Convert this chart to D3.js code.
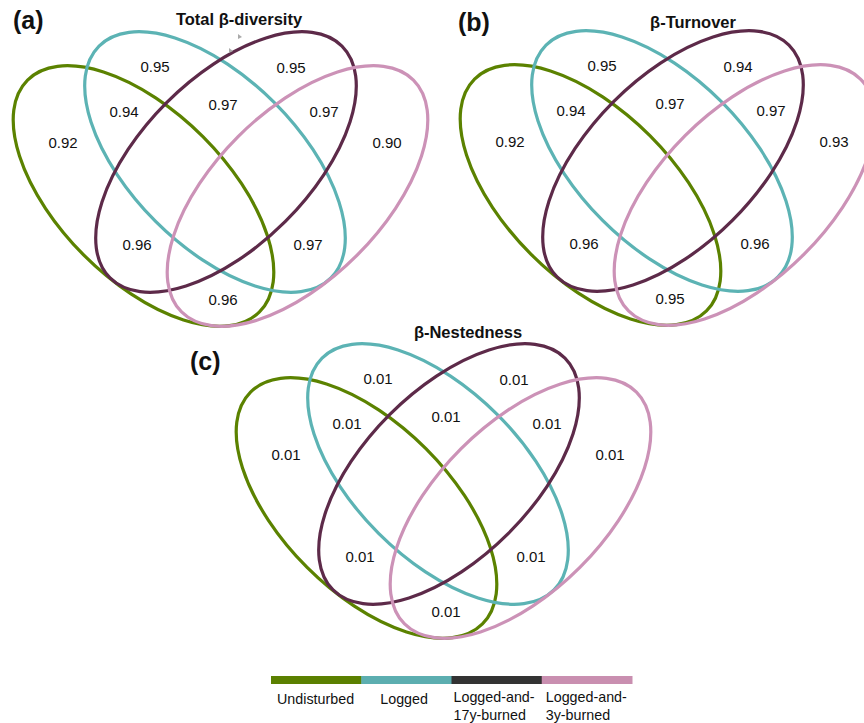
<!DOCTYPE html>
<html>
<head>
<meta charset="utf-8">
<script src="https://cdn.jsdelivr.net/npm/d3@7"></script>
<style>
  body { margin: 0; background: #fff; }
  svg { display: block; }
  text { font-family: "Liberation Sans", Arial, sans-serif; fill: #111; }
</style>
</head>
<body>
<svg id="chart" width="864" height="723"></svg>
<script>
// Sites compared
const groups = ["Undisturbed", "Logged", "Logged-and-17y-burned", "Logged-and-3y-burned"];
const legendLines = [["Undisturbed"], ["Logged"], ["Logged-and-", "17y-burned"], ["Logged-and-", "3y-burned"]];

// Venn regions: single groups (within-group) and pairwise comparisons
const regions = ["U", "L", "B17", "B3", "U-L", "L-B17", "B17-B3", "U-B17", "L-B3", "U-B3"];

// Dissimilarity values per region
const totalBeta  = [0.92, 0.95, 0.95, 0.90, 0.94, 0.97, 0.97, 0.96, 0.97, 0.96];
const turnover   = [0.92, 0.95, 0.94, 0.93, 0.94, 0.97, 0.97, 0.96, 0.96, 0.95];
const nestedness = [0.01, 0.01, 0.01, 0.01, 0.01, 0.01, 0.01, 0.01, 0.01, 0.01];

const panelTitles = ["Total β-diversity", "β-Turnover", "β-Nestedness"];
const panelTags = ["(a)", "(b)", "(c)"];

// ---- styling / layout ----
const ellipseColors = ["#5b8200", "#5cb3b4", "#5d2a49", "#cc92b7"];
const legendColors  = ["#5b8000", "#5caeb0", "#333333", "#c98fb0"];

// Ellipse geometry in the local panel frame (pixels of a 440-wide frame)
const ellipseLayout = [
  { cx: 143.5, cy: 196, rot: 45 },
  { cx: 215,   cy: 162, rot: 45 },
  { cx: 226,   cy: 162, rot: -45 },
  { cx: 297.5, cy: 196, rot: -45 }
];
const semiMajor = 164, semiMinor = 84;

// Label anchor (text centre) for each region in the local frame
const labelLayout = {
  "U": [63, 142], "L": [155, 66], "B17": [291, 67], "B3": [387, 142],
  "U-L": [124, 111], "L-B17": [223, 104], "B17-B3": [324, 111],
  "U-B17": [137, 244], "L-B3": [308, 244], "U-B3": [223, 299]
};

const panels = [
  { values: totalBeta,  dx: 0,   dy: 0,   title: [239, 25], tag: [13, 29] },
  { values: turnover,   dx: 447, dy: -1,  title: [693, 28], tag: [458, 31] },
  { values: nestedness, dx: 223, dy: 312, title: [468, 338], tag: [190, 370] }
];

const svg = d3.select("#chart");
const fmt = d3.format(".2f");

panels.forEach((p, i) => {
  const x = d3.scaleLinear().domain([0, 440]).range([p.dx, p.dx + 440]);
  const y = d3.scaleLinear().domain([0, 440]).range([p.dy, p.dy + 440]);
  const len = v => x(v) - x(0);

  const g = svg.append("g").attr("class", "panel");

  g.selectAll("ellipse")
    .data(ellipseLayout)
    .join("ellipse")
    .attr("cx", d => x(d.cx))
    .attr("cy", d => y(d.cy))
    .attr("rx", len(semiMajor))
    .attr("ry", len(semiMinor))
    .attr("transform", d => `rotate(${d.rot},${x(d.cx)},${y(d.cy)})`)
    .attr("fill", "none")
    .attr("stroke", (d, j) => ellipseColors[j])
    .attr("stroke-width", 3.2);

  g.selectAll("text.val")
    .data(regions.map((r, j) => ({ r, v: p.values[j] })))
    .join("text")
    .attr("class", "val")
    .attr("x", d => x(labelLayout[d.r][0]))
    .attr("y", d => y(labelLayout[d.r][1]) + 5.5)
    .attr("text-anchor", "middle")
    .attr("font-size", 15)
    .text(d => fmt(d.v));

  svg.append("text")
    .attr("x", p.title[0]).attr("y", p.title[1])
    .attr("text-anchor", "middle")
    .attr("font-size", 16.5).attr("font-weight", "bold")
    .text(panelTitles[i]);

  svg.append("text")
    .attr("x", p.tag[0]).attr("y", p.tag[1])
    .attr("font-size", 25).attr("font-weight", "bold")
    .text(panelTags[i]);
});

// small pointer marks beside the first title
svg.append("path").attr("d", "M238,34 L242,37 L238,39 Z").attr("fill", "#aaa");
svg.append("path").attr("d", "M229,48 L233,51 L229,53 Z").attr("fill", "#aaa");

// ---- legend: colour strip with labels underneath ----
const lx = d3.scaleBand().domain(groups).range([271, 632]).paddingInner(0);
const leg = svg.append("g").attr("class", "legend");
leg.selectAll("rect")
  .data(groups)
  .join("rect")
  .attr("x", d => lx(d))
  .attr("y", 676)
  .attr("width", lx.bandwidth() + 0.5)
  .attr("height", 8)
  .attr("fill", (d, j) => legendColors[j]);

const labelOffsets = [6, 19, 2, 4];
leg.selectAll("text")
  .data(groups)
  .join("text")
  .attr("font-size", 14.3)
  .each(function (d, j) {
    const t = d3.select(this);
    const lines = legendLines[j];
    const base = lines.length === 1 ? 704 : 702;
    lines.forEach((ln, k) => {
      t.append("tspan")
        .attr("x", lx(d) + labelOffsets[j])
        .attr("y", base + k * 18)
        .text(ln);
    });
  });
</script>
</body>
</html>
